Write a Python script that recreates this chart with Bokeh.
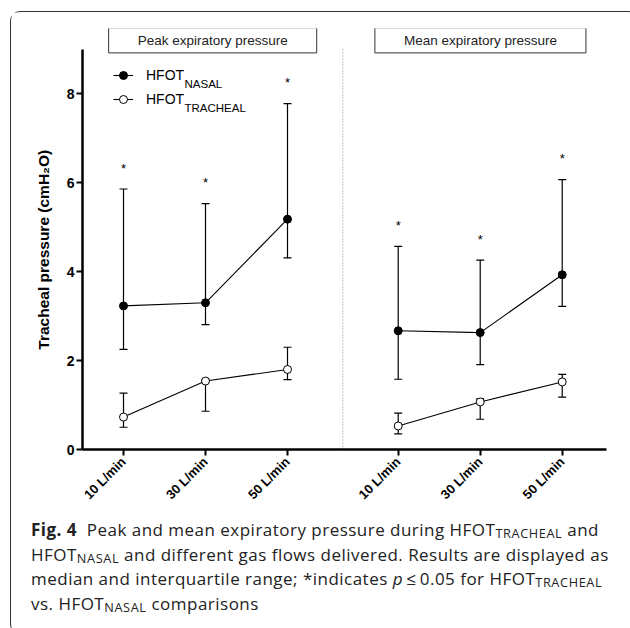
import math
from bokeh.plotting import figure
from bokeh.models import (ColumnDataSource, Whisker, TeeHead, Legend, LegendItem,
                          Label, FixedTicker, Div)
from bokeh.layouts import column
from bokeh.embed import file_html
from bokeh.resources import INLINE
from bokeh.core.properties import value

# ---------------- data ----------------
panels = ["Peak expiratory pressure", "Mean expiratory pressure"]
flows = ["10 L/min", "30 L/min", "50 L/min"]

# median and interquartile range (cmH2O); peak panel first, then mean panel
nasal_median = [3.23, 3.30, 5.18, 2.67, 2.63, 3.93]
nasal_q1 = [2.25, 2.81, 4.31, 1.58, 1.91, 3.22]
nasal_q3 = [5.86, 5.53, 7.78, 4.57, 4.26, 6.07]

tracheal_median = [0.73, 1.54, 1.80, 0.53, 1.07, 1.52]
tracheal_q1 = [0.50, 0.86, 1.57, 0.35, 0.68, 1.18]
tracheal_q3 = [1.27, 1.58, 2.30, 0.82, 1.14, 1.69]

significant = [True, True, True, True, True, True]
y_ticks = [0, 2, 4, 6, 8]
y_max = 9
y_label = "Tracheal pressure (cmH\u2082O)"

FONT = "Liberation Sans"
GAP = 0.35            # extra space between the two panels (in category units)
STAR_OFFSET = 0.47    # star placed above the upper quartile
HEADROOM = 0.47       # room above the y axis for the panel title boxes
TITLE_SHIFT = [0.0, 0.07]

n = len(flows)
xs = [pi * (n + GAP) + fi for pi in range(len(panels)) for fi in range(n)]
x_start = xs[0] - 0.5
x_end = xs[-1] + 0.54
divider = (xs[n - 1] + xs[n]) / 2

# ---------------- figure ----------------
p = figure(width=617, height=501, x_range=(x_start, x_end),
           y_range=(0, y_max + HEADROOM),
           output_backend="svg", toolbar_location=None,
           min_border_left=71, min_border_right=22, min_border_top=16,
           min_border_bottom=64)
p.outline_line_color = None
p.grid.visible = False
p.background_fill_color = "white"
p.border_fill_color = "white"

# axes
for ax in (p.xaxis[0], p.yaxis[0]):
    ax.axis_line_width = 2.5
    ax.axis_line_color = "black"
    ax.major_tick_line_width = 2
    ax.major_tick_line_color = "black"
    ax.major_tick_out = 6
    ax.major_tick_in = 0
    ax.minor_tick_line_color = None
    ax.major_label_text_font = FONT
    ax.major_label_text_font_style = "bold"
    ax.major_label_text_color = "black"

p.yaxis.bounds = (0, y_max)
p.yaxis.ticker = FixedTicker(ticks=y_ticks)
p.yaxis.major_label_text_font_size = "14px"
p.yaxis.major_label_standoff = 2
# trailing no-break spaces centre the label on the drawn axis (0..9), not on the frame
p.yaxis.axis_label = y_label + "\u00a0" * 5
p.yaxis.axis_label_text_font = FONT
p.yaxis.axis_label_text_font_style = "bold"
p.yaxis.axis_label_text_font_size = "15.5px"
p.yaxis.axis_label_text_color = "black"
p.yaxis.axis_label_standoff = 12

p.xaxis.ticker = FixedTicker(ticks=xs)
p.xaxis.major_label_overrides = {x: flows[i % n] for i, x in enumerate(xs)}
p.xaxis.major_label_orientation = math.pi / 4
p.xaxis.major_label_text_font_size = "13px"
p.xaxis.major_label_standoff = 4

# dotted divider between panels
p.segment(x0=[divider], y0=[0], x1=[divider], y1=[y_max], line_color="#888888",
          line_width=1, line_dash="1 2")

# ---------------- series ----------------
src_n = ColumnDataSource(dict(x=xs, med=nasal_median, lo=nasal_q1, hi=nasal_q3))
src_t = ColumnDataSource(dict(x=xs, med=tracheal_median, lo=tracheal_q1, hi=tracheal_q3))

lines_n, lines_t = [], []
for pi in range(len(panels)):
    sl = slice(pi * n, (pi + 1) * n)
    lines_n.append(p.line(xs[sl], nasal_median[sl], line_color="black", line_width=1.1))
    lines_t.append(p.line(xs[sl], tracheal_median[sl], line_color="black", line_width=1.1))

for src in (src_n, src_t):
    w = Whisker(source=src, base="x", upper="hi", lower="lo", line_color="black",
                line_width=1.2,
                upper_head=TeeHead(size=8, line_width=1.2, line_color="black"),
                lower_head=TeeHead(size=8, line_width=1.2, line_color="black"))
    p.add_layout(w)

sc_n = p.scatter("x", "med", source=src_n, marker="circle", size=8,
                 fill_color="black", line_color="black")
sc_t = p.scatter("x", "med", source=src_t, marker="circle", size=8,
                 fill_color="white", line_color="black", line_width=1)

# significance stars
star_x = [x for x, s in zip(xs, significant) if s]
star_y = [h + STAR_OFFSET for h, s in zip(nasal_q3, significant) if s]
p.text(x=star_x, y=star_y, text=["*"] * len(star_x), text_align="center",
       text_baseline="middle", text_font=value(FONT), text_font_size="13px",
       text_color="black")

# panel titles
centers = [(x_start + divider) / 2 + TITLE_SHIFT[0], (divider + x_end) / 2 + TITLE_SHIFT[1]]
for c, t in zip(centers, panels):
    p.add_layout(Label(x=c, y=y_max, y_offset=9, text=t, text_align="center",
                       text_baseline="middle", text_font=FONT, text_font_size="13.5px",
                       text_color="#222222", border_line_color="#333333",
                       border_line_width=1, background_fill_color="white",
                       padding=dict(x=29, y=5)))

# legend
legend = Legend(items=[LegendItem(label="HFOT", renderers=[lines_n[0], sc_n]),
                       LegendItem(label="HFOT", renderers=[lines_t[0], sc_t])],
                location=(31, 340), padding=0, margin=0, spacing=4,
                glyph_width=20, glyph_height=20, label_height=20, label_standoff=13,
                label_text_font=FONT, label_text_font_size="14px",
                label_text_color="black", border_line_color=None,
                background_fill_alpha=0)
p.add_layout(legend)
for txt, yy in (("NASAL", 366), ("TRACHEAL", 342)):
    p.add_layout(Label(x=102, y=yy, x_units="screen", y_units="screen", text=txt,
                       text_font=FONT, text_font_size="11.5px", text_color="black",
                       text_baseline="alphabetic", text_align="left"))

# ---------------- caption ----------------
sub = '<sub style="font-size:0.75em;vertical-align:-0.15em;line-height:0;letter-spacing:0.6px">'
caption = (
    '<div style="font-family:\'Open Sans\';font-size:17px;line-height:24.5px;color:#222;'
    'letter-spacing:0.48px;white-space:nowrap;padding-left:15px;">'
    '<b>Fig. 4</b>&nbsp; Peak and mean expiratory pressure during HFOT' + sub + 'TRACHEAL</sub> and<br>'
    'HFOT' + sub + 'NASAL</sub> and different gas flows delivered. Results are displayed as<br>'
    'median and interquartile range; *indicates <i>p</i>&thinsp;\u2264&thinsp;0.05 for HFOT' + sub + 'TRACHEAL</sub><br>'
    'vs. HFOT' + sub + 'NASAL</sub> comparisons</div>'
)
div = Div(text=caption, width=617, height=110)

layout = column(p, div, margin=(11, 0, 0, 10), spacing=0,
                styles={"border": "1px solid #333333", "border-radius": "10px"})

open("out.html", "w").write(file_html(layout, INLINE))
